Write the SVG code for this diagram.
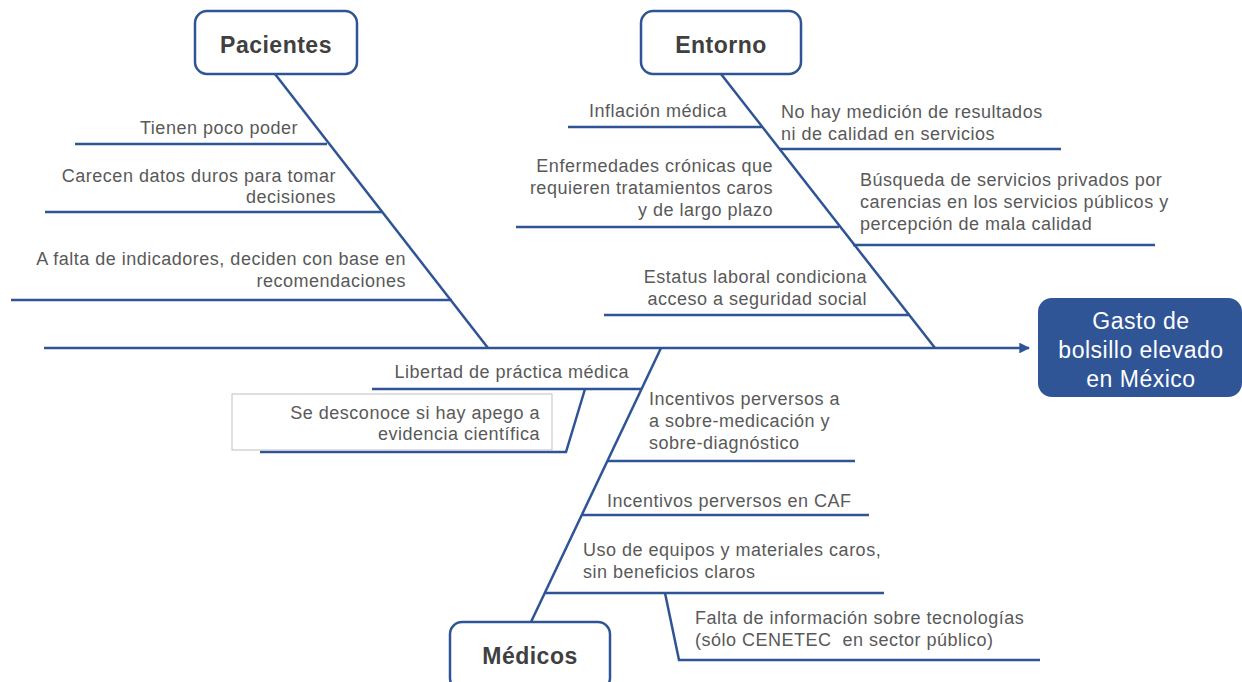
<svg xmlns="http://www.w3.org/2000/svg" width="1242" height="682" viewBox="0 0 1242 682">
<defs>
<style>
.t{font-family:"Liberation Sans",Arial,sans-serif;font-size:18px;fill:#595959;letter-spacing:0.5px}
.r{text-anchor:end}
.h{font-family:"Liberation Sans",Arial,sans-serif;font-size:23px;font-weight:bold;fill:#404040;text-anchor:middle;letter-spacing:0.5px}
.cat{fill:#fff;stroke:#2F5496;stroke-width:2.5}
.ln{stroke:#2F5496;stroke-width:2.5;fill:none}
.e{font-family:"Liberation Sans",Arial,sans-serif;font-size:23px;fill:#fff;text-anchor:middle;letter-spacing:0.5px}
</style>
<marker id="arr" viewBox="0 0 10 10" refX="9" refY="5" markerWidth="4.3" markerHeight="4.3" orient="auto" markerUnits="strokeWidth">
<path d="M0,0 L10,5 L0,10 z" fill="#2F5496"/>
</marker>
</defs>
<rect width="1242" height="682" fill="#fff"/>
<g id="connectors">
<line class="ln" x1="44" y1="348" x2="1029" y2="348" stroke-width="3" marker-end="url(#arr)"/>
<line class="ln" x1="275" y1="74" x2="488" y2="348"/>
<line class="ln" x1="75" y1="144" x2="327" y2="144"/>
<line class="ln" x1="45" y1="212" x2="383" y2="212"/>
<line class="ln" x1="11" y1="300" x2="452" y2="300"/>
<line class="ln" x1="721" y1="74" x2="935" y2="348"/>
<line class="ln" x1="568" y1="127" x2="762" y2="127"/>
<line class="ln" x1="779" y1="149" x2="1061" y2="149"/>
<line class="ln" x1="516" y1="227" x2="839" y2="227"/>
<line class="ln" x1="853" y1="245" x2="1155" y2="245"/>
<line class="ln" x1="604" y1="315" x2="910" y2="315"/>
<line class="ln" x1="661" y1="348" x2="531" y2="622"/>
<line class="ln" x1="372" y1="389" x2="642" y2="389"/>
<polyline class="ln" points="585,389 566,452 260,452"/>
<line class="ln" x1="608" y1="461" x2="855" y2="461"/>
<line class="ln" x1="582" y1="515" x2="869" y2="515"/>
<line class="ln" x1="545" y1="593" x2="884" y2="593"/>
<polyline class="ln" points="665,593 679,660 1040,660"/>
</g>
<g id="pacientes">
<rect class="cat" x="195" y="11" width="162" height="63" rx="12"/>
<text class="h" x="276" y="53">Pacientes</text>
</g>
<g id="entorno">
<rect class="cat" x="641" y="11" width="160" height="63" rx="12"/>
<text class="h" x="721" y="53">Entorno</text>
</g>
<g id="medicos">
<rect class="cat" x="450" y="622" width="160" height="68" rx="12"/>
<text class="h" x="530" y="664">Médicos</text>
</g>
<g id="efecto">
<rect x="1038" y="298" width="204" height="99" rx="14" fill="#2F5597"/>
<text class="e" x="1141" y="329">Gasto de</text>
<text class="e" x="1141" y="358">bolsillo elevado</text>
<text class="e" x="1141" y="387">en México</text>
</g>
<g id="p1"><text class="t r" x="298" y="134">Tienen poco poder</text></g>
<g id="p2"><text class="t r" x="336" y="182">Carecen datos duros para tomar</text><text class="t r" x="336" y="203">decisiones</text></g>
<g id="p3"><text class="t r" x="406" y="265">A falta de indicadores, deciden con base en</text><text class="t r" x="406" y="287">recomendaciones</text></g>
<g id="e1"><text class="t r" x="727" y="117">Inflación médica</text></g>
<g id="e2"><text class="t" x="781" y="118">No hay medición de resultados</text><text class="t" x="781" y="140">ni de calidad en servicios</text></g>
<g id="e3"><text class="t r" x="773" y="172">Enfermedades crónicas que</text><text class="t r" x="773" y="194">requieren tratamientos caros</text><text class="t r" x="773" y="216">y de largo plazo</text></g>
<g id="e4"><text class="t" x="860" y="186">Búsqueda de servicios privados por</text><text class="t" x="860" y="208">carencias en los servicios públicos y</text><text class="t" x="860" y="230">percepción de mala calidad</text></g>
<g id="e5"><text class="t r" x="867" y="283">Estatus laboral condiciona</text><text class="t r" x="867" y="305">acceso a seguridad social</text></g>
<g id="m1"><text class="t r" x="629" y="378">Libertad de práctica médica</text></g>
<g id="m1a"><rect x="232" y="394" width="320" height="56" fill="#fff" stroke="#BFBFBF" stroke-width="1"/><text class="t r" x="540" y="419">Se desconoce si hay apego a</text><text class="t r" x="540" y="440">evidencia científica</text></g>
<g id="m2"><text class="t" x="649" y="405">Incentivos perversos a</text><text class="t" x="649" y="427">a sobre-medicación y</text><text class="t" x="649" y="449">sobre-diagnóstico</text></g>
<g id="m3"><text class="t" x="607" y="507">Incentivos perversos en CAF</text></g>
<g id="m4"><text class="t" x="583" y="556">Uso de equipos y materiales caros,</text><text class="t" x="583" y="578">sin beneficios claros</text></g>
<g id="m5"><text class="t" x="695" y="624">Falta de información sobre tecnologías</text><text class="t" x="695" y="646">(sólo CENETEC&#160; en sector público)</text></g>
</svg>
